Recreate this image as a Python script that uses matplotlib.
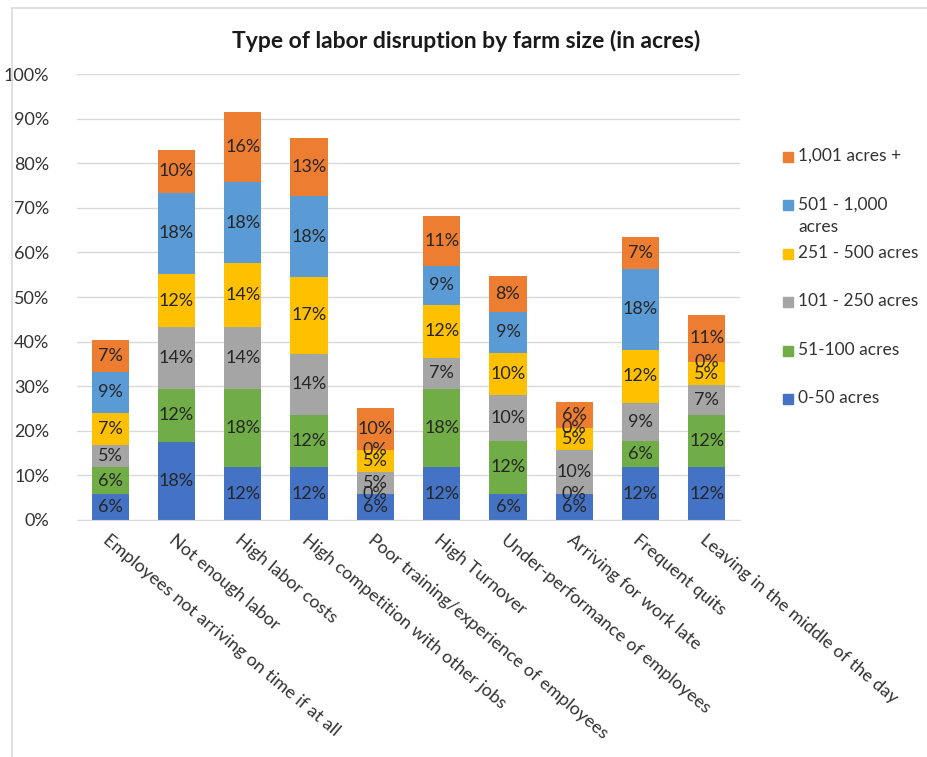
import matplotlib
matplotlib.use("Agg")
import matplotlib.pyplot as plt
from matplotlib.patches import Rectangle
import numpy as np

plt.rcParams['font.family'] = ['Lato', 'DejaVu Sans']

categories = [
    "Employees not arriving on time if at all",
    "Not enough labor",
    "High labor costs",
    "High competition with other jobs",
    "Poor training/experience of employees",
    "High Turnover",
    "Under-performance of employees",
    "Arriving for work late",
    "Frequent quits",
    "Leaving in the middle of the day",
]

# share of farms (%) in each size class, per disruption type
acres_0_50 = [5.9, 17.6, 11.8, 11.8, 5.9, 11.8, 5.9, 5.9, 11.8, 11.8]
acres_51_100 = [5.9, 11.8, 17.6, 11.8, 0.0, 17.6, 11.8, 0.0, 5.9, 11.8]
acres_101_250 = [5.0, 13.8, 13.8, 13.7, 4.8, 6.9, 10.3, 9.8, 8.6, 6.6]
acres_251_500 = [7.3, 12.0, 14.4, 17.2, 5.0, 12.0, 9.5, 5.0, 11.8, 5.2]
acres_501_1000 = [9.1, 18.2, 18.1, 18.1, 0.0, 8.7, 9.1, 0.0, 18.2, 0.0]
acres_1001_plus = [7.1, 9.6, 15.8, 13.1, 9.5, 11.2, 8.2, 5.8, 7.1, 10.6]

series_names = ["0-50 acres", "51-100 acres", "101 - 250 acres",
                "251 - 500 acres", "501 - 1,000\nacres", "1,001 acres +"]
series_values = [acres_0_50, acres_51_100, acres_101_250,
                 acres_251_500, acres_501_1000, acres_1001_plus]
colors = ["#4472C4", "#70AD47", "#A5A5A5", "#FFC000", "#5B9BD5", "#ED7D31"]

W, H = 927, 757
fig = plt.figure(figsize=(W / 100, H / 100), dpi=100)
ax = fig.add_axes([77 / W, 1 - 520 / H, 663 / W, 446 / H])

x = np.arange(len(categories))
bottom = np.zeros(len(categories))
text_color = "#262626"
for name, vals, col in zip(series_names, series_values, colors):
    vals = np.array(vals)
    ax.bar(x, vals, 0.56, bottom=bottom, color=col, zorder=2)
    for xi, b, v in zip(x, bottom, vals):
        ax.text(xi, b + v / 2, f"{v:.0f}%", ha="center", va="center",
                fontsize=13, color=text_color, zorder=3)
    bottom += vals

ax.set_xlim(-0.5, len(categories) - 0.5)
ax.set_ylim(0, 100)
ax.set_yticks(np.arange(0, 101, 10))
ax.set_yticklabels([f"{t}%" for t in range(0, 101, 10)], fontsize=13, color="#333333")
ax.yaxis.grid(True, color="#D9D9D9", linewidth=1.0, zorder=0)
ax.set_axisbelow(True)
ax.tick_params(axis="y", length=0, pad=20)
ax.tick_params(axis="x", length=0)
for s in ["top", "right", "left"]:
    ax.spines[s].set_visible(False)
ax.spines["bottom"].set_color("#D9D9D9")

ax.set_xticks(x)
ax.set_xticklabels(categories, rotation=-40, ha="left", va="top",
                   rotation_mode="anchor", fontsize=13, color="#333333")
for lbl in ax.get_xticklabels():
    lbl.set_y(-0.015)

fig.text(466 / W, 1 - 41 / H, "Type of labor disruption by farm size (in acres)",
         ha="center", va="center", fontsize=16.5, fontweight="bold", color="#1a1a1a")

# legend, top entry is the last series
for i, (name, col) in enumerate(zip(series_names[::-1], colors[::-1])):
    yc = 157 + i * 48.4
    fig.patches.append(Rectangle(((783) / W, 1 - (yc + 5) / H), 10 / W, 10 / H,
                                 transform=fig.transFigure, color=col))
    fig.text(798 / W, 1 - (yc - 9) / H, name, ha="left", va="top",
             fontsize=12.5, color="#333333", linespacing=1.5)

# chart border
fig.patches.append(Rectangle((12 / W, -0.01), 1.0, 1 - 8 / H + 0.01,
                             transform=fig.transFigure, fill=False,
                             edgecolor="#D9D9D9", linewidth=1.2))

fig.savefig("out.png", dpi=100, facecolor="white")
